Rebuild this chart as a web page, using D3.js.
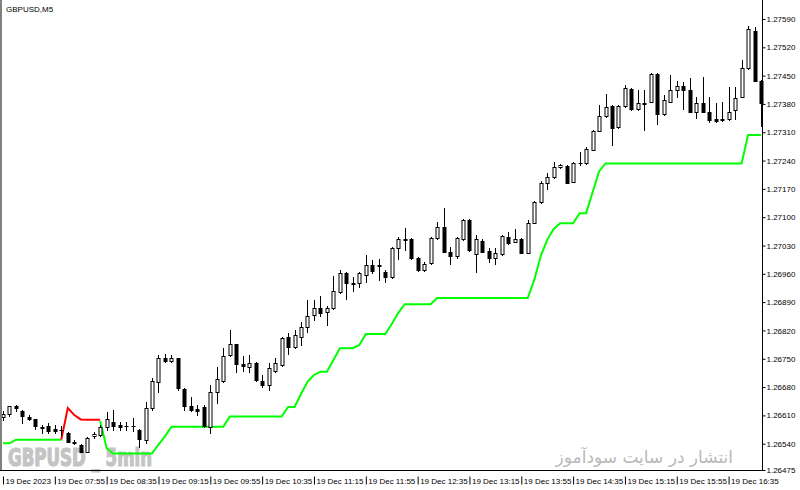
<!DOCTYPE html>
<html>
<head>
<meta charset="utf-8">
<script src="https://cdn.jsdelivr.net/npm/d3@7"></script>
<style>
  body { margin: 0; background: #fff; }
  svg { display: block; }
</style>
</head>
<body>
<div id="container"></div>
<script>
// GBPUSD M5, 19 Dec 2023, bars 07:15 .. 17:00
const openP = [1.26606,1.26613,1.26633,1.26622,1.26605,1.26601,1.26581,1.26584,1.26577,1.26575,
  1.26566,1.26545,1.26537,1.26520,1.26559,1.26562,1.26581,1.26594,1.26586,1.26585,
  1.26584,1.26574,1.26549,1.26628,1.26693,1.26751,1.26745,1.26751,1.26675,1.26633,
  1.26625,1.26631,1.26582,1.26669,1.26696,1.26759,1.26786,1.26737,1.26730,1.26739,
  1.26696,1.26684,1.26720,1.26735,1.26805,1.26778,1.26805,1.26829,1.26858,1.26875,
  1.26865,1.26875,1.26916,1.26961,1.26938,1.26938,1.26957,1.26983,1.26979,1.26965,
  1.26953,1.27023,1.27044,1.27045,1.26998,1.26969,1.26986,1.27048,1.27075,1.27015,
  1.27005,1.27045,1.27093,1.27009,1.27042,1.27016,1.26998,1.27009,1.27052,1.27039,
  1.27045,1.27012,1.27086,1.27137,1.27184,1.27199,1.27225,1.27227,1.27188,1.27233,
  1.27233,1.27266,1.27314,1.27349,1.27375,1.27322,1.27375,1.27416,1.27367,1.27381,
  1.27386,1.27454,1.27355,1.27386,1.27415,1.27424,1.27415,1.27361,1.27383,1.27361,
  1.27343,1.27343,1.27342,1.27365,1.27398,1.27468,1.27561,1.27437];
const highP = [1.26621,1.26634,1.26636,1.26623,1.26610,1.26602,1.26586,1.26592,1.26587,1.26584,
  1.26569,1.26549,1.26539,1.26557,1.26569,1.26586,1.26619,1.26623,1.26594,1.26594,
  1.26604,1.26576,1.26644,1.26702,1.26759,1.26762,1.26759,1.26752,1.26678,1.26655,
  1.26636,1.26636,1.26685,1.26730,1.26777,1.26820,1.26787,1.26757,1.26759,1.26742,
  1.26710,1.26739,1.26751,1.26804,1.26814,1.26821,1.26842,1.26895,1.26895,1.26905,
  1.26880,1.26955,1.26969,1.26965,1.26952,1.26965,1.27006,1.26995,1.26997,1.26969,
  1.27026,1.27052,1.27073,1.27049,1.27002,1.26988,1.27051,1.27089,1.27122,1.27027,
  1.27051,1.27096,1.27096,1.27056,1.27046,1.27023,1.27023,1.27056,1.27064,1.27070,
  1.27049,1.27093,1.27140,1.27189,1.27209,1.27237,1.27232,1.27229,1.27237,1.27262,
  1.27274,1.27316,1.27377,1.27405,1.27377,1.27377,1.27427,1.27419,1.27415,1.27415,
  1.27457,1.27456,1.27402,1.27452,1.27437,1.27435,1.27443,1.27396,1.27446,1.27396,
  1.27382,1.27386,1.27421,1.27421,1.27489,1.27573,1.27569,1.27439];
const lowP = [1.26599,1.26609,1.26622,1.26590,1.26599,1.26576,1.26567,1.26567,1.26566,1.26562,
  1.26543,1.26539,1.26519,1.26519,1.26554,1.26559,1.26574,1.26574,1.26574,1.26574,
  1.26572,1.26533,1.26542,1.26623,1.26669,1.26742,1.26742,1.26673,1.26623,1.26622,
  1.26611,1.26581,1.26566,1.26641,1.26693,1.26756,1.26717,1.26720,1.26718,1.26695,
  1.26680,1.26673,1.26717,1.26732,1.26763,1.26777,1.26784,1.26817,1.26846,1.26856,
  1.26834,1.26873,1.26913,1.26897,1.26918,1.26927,1.26940,1.26962,1.26945,1.26940,
  1.26950,1.26996,1.27019,1.26997,1.26967,1.26967,1.26984,1.27046,1.27014,1.26984,
  1.26999,1.27044,1.27016,1.26965,1.27014,1.26988,1.26984,1.27006,1.27034,1.27038,
  1.27011,1.27011,1.27085,1.27135,1.27170,1.27197,1.27222,1.27184,1.27186,1.27229,
  1.27232,1.27265,1.27313,1.27347,1.27279,1.27320,1.27373,1.27365,1.27365,1.27316,
  1.27385,1.27330,1.27353,1.27385,1.27398,1.27367,1.27360,1.27345,1.27360,1.27336,
  1.27336,1.27338,1.27340,1.27342,1.27397,1.27466,1.27436,1.27326];
const closeP = [1.26613,1.26632,1.26629,1.26608,1.26600,1.26584,1.26579,1.26572,1.26572,1.26573,
  1.26544,1.26541,1.26520,1.26554,1.26564,1.26581,1.26601,1.26583,1.26581,1.26584,
  1.26585,1.26551,1.26628,1.26696,1.26751,1.26745,1.26752,1.26677,1.26632,1.26623,
  1.26622,1.26583,1.26669,1.26700,1.26756,1.26786,1.26738,1.26732,1.26739,1.26698,
  1.26684,1.26726,1.26739,1.26801,1.26778,1.26809,1.26828,1.26856,1.26876,1.26864,
  1.26875,1.26918,1.26961,1.26938,1.26935,1.26961,1.26982,1.26967,1.26982,1.26953,
  1.27023,1.27045,1.27046,1.26998,1.26969,1.26984,1.27048,1.27075,1.27015,1.27005,
  1.27048,1.27093,1.27019,1.27045,1.27015,1.26998,1.27011,1.27054,1.27036,1.27045,
  1.27012,1.27085,1.27137,1.27184,1.27200,1.27223,1.27229,1.27185,1.27233,1.27235,
  1.27268,1.27313,1.27350,1.27373,1.27320,1.27375,1.27419,1.27367,1.27382,1.27383,
  1.27454,1.27355,1.27390,1.27415,1.27424,1.27415,1.27361,1.27382,1.27361,1.27340,
  1.27338,1.27340,1.27361,1.27394,1.27468,1.27565,1.27437,1.27382];

// trend line: green while up, red while down (null = not drawn)
const upTrend = [1.26541,1.26541,1.26550,1.26550,1.26550,1.26550,1.26550,1.26550,1.26550,1.26550,
  null,null,null,null,null,1.26596,1.26529,1.26516,1.26516,1.26516,
  1.26516,1.26516,1.26516,1.26516,1.26538,1.26558,1.26582,1.26582,1.26582,1.26582,
  1.26582,1.26582,1.26582,1.26582,1.26582,1.26607,1.26607,1.26607,1.26607,1.26607,
  1.26607,1.26607,1.26607,1.26607,1.26631,1.26631,1.26663,1.26693,1.26710,1.26718,
  1.26718,1.26747,1.26776,1.26776,1.26776,1.26784,1.26811,1.26811,1.26811,1.26811,
  1.26836,1.26863,1.26885,1.26885,1.26885,1.26885,1.26885,1.26900,1.26900,1.26900,
  1.26900,1.26900,1.26900,1.26900,1.26900,1.26900,1.26900,1.26900,1.26900,1.26900,
  1.26900,1.26900,1.26945,1.27004,1.27044,1.27071,1.27085,1.27085,1.27085,1.27110,
  1.27110,1.27161,1.27213,1.27233,1.27233,1.27233,1.27233,1.27233,1.27233,1.27233,
  1.27233,1.27233,1.27233,1.27233,1.27233,1.27233,1.27233,1.27233,1.27233,1.27233,
  1.27233,1.27233,1.27233,1.27233,1.27233,1.27303,1.27303,1.27303];
const downStart = 9;
const downTrend = [1.26550,1.26628,1.26611,1.26600,1.26599,1.26599,1.26599];

const timeTickBars = [0, 8, 16, 24, 32, 40, 48, 56, 64, 72, 80, 88, 96, 104, 112];
const timeTickLabels = ["19 Dec 2023", "19 Dec 07:55", "19 Dec 08:35", "19 Dec 09:15", "19 Dec 09:55",
  "19 Dec 10:35", "19 Dec 11:15", "19 Dec 11:55", "19 Dec 12:35", "19 Dec 13:15", "19 Dec 13:55",
  "19 Dec 14:35", "19 Dec 15:15", "19 Dec 15:55", "19 Dec 16:35"];
const priceTicks = [1.26475, 1.26540, 1.26610, 1.26680, 1.26750, 1.26820, 1.26890, 1.26960,
  1.27030, 1.27100, 1.27170, 1.27240, 1.27310, 1.27380, 1.27450, 1.27520, 1.27590];

const W = 800, H = 490;
const axisX = 762, axisY = 470;

const svg = d3.select("#container").append("svg")
  .attr("width", W).attr("height", H)
  .style("font-family", "'Liberation Sans', Arial, sans-serif");

const x = d3.scaleLinear().domain([0, openP.length - 1]).range([3, 761]);
const y = d3.scaleLinear().domain([1.26475, 1.27590]).range([axisY, 19]);

// watermarks (behind everything)
svg.append("text")
  .attr("x", 8).attr("y", 466)
  .attr("textLength", 144).attr("lengthAdjust", "spacingAndGlyphs")
  .style("font-family", "'DejaVu Sans Condensed', 'DejaVu Sans', sans-serif")
  .style("font-weight", "bold").style("font-size", "24px")
  .attr("fill", "#c4c4c4").attr("stroke", "#c4c4c4").attr("stroke-width", 1.2)
  .text("GBPUSD _ 5min");

svg.append("text")
  .attr("x", 733).attr("y", 463)
  .attr("text-anchor", "end")
  .style("font-family", "'DejaVu Sans', sans-serif")
  .style("font-size", "17px")
  .attr("fill", "#b9b9b9")
  .text("انتشار در سایت سودآموز");

// trend lines
const trendLine = d3.line()
  .defined(d => d.v != null)
  .x(d => x(d.i))
  .y(d => y(d.v));

svg.append("path")
  .datum(upTrend.map((v, i) => ({ i, v })))
  .attr("d", trendLine)
  .attr("fill", "none").attr("stroke", "#00ff00").attr("stroke-width", 2);

svg.append("path")
  .datum(downTrend.map((v, k) => ({ i: downStart + k, v })))
  .attr("d", trendLine)
  .attr("fill", "none").attr("stroke", "#ff0000").attr("stroke-width", 2);

// candles
const bars = openP.map((o, i) => ({ i, o, h: highP[i], l: lowP[i], c: closeP[i] }));
const candle = svg.append("g").selectAll("g").data(bars).join("g");

candle.append("line")
  .attr("x1", d => Math.round(x(d.i)) + 0.5)
  .attr("x2", d => Math.round(x(d.i)) + 0.5)
  .attr("y1", d => Math.round(y(d.h)))
  .attr("y2", d => Math.round(y(d.l)) + 1)
  .attr("stroke", "#000");

candle.append("rect")
  .attr("x", d => Math.round(x(d.i)) - 1)
  .attr("y", d => Math.round(y(Math.max(d.o, d.c))) + 0.5)
  .attr("width", 3)
  .attr("height", d => Math.max(0.01, Math.round(y(Math.min(d.o, d.c))) - Math.round(y(Math.max(d.o, d.c)))))
  .attr("fill", d => d.c >= d.o ? "#fff" : "#000")
  .attr("stroke", "#000");

// frame
svg.append("line").attr("x1", 1).attr("x2", 1).attr("y1", 0).attr("y2", axisY)
  .attr("stroke", "#808080").attr("stroke-width", 2);

// price axis
const yAxis = d3.axisRight(y)
  .tickValues(priceTicks)
  .tickSize(3).tickPadding(1)
  .tickFormat(d3.format(".5f"));
const gy = svg.append("g").attr("transform", `translate(${axisX + 0.5},0)`).call(yAxis);
gy.select(".domain").remove();
gy.selectAll("text").style("font-size", "8px").style("font-family", "'Liberation Sans', Arial, sans-serif");

// time axis
const xAxis = d3.axisBottom(x)
  .tickValues(timeTickBars)
  .tickSize(14)
  .tickFormat((d, i) => timeTickLabels[i]);
const gx = svg.append("g").attr("transform", `translate(0,${axisY + 0.5})`).call(xAxis);
gx.select(".domain").remove();
gx.selectAll(".tick line").attr("y1", 6);
gx.selectAll("text")
  .attr("text-anchor", "start").attr("x", 2).attr("y", 13).attr("dy", null)
  .style("font-size", "8px").style("font-family", "'Liberation Sans', Arial, sans-serif");

svg.append("line").attr("x1", axisX + 0.5).attr("x2", axisX + 0.5).attr("y1", 0).attr("y2", axisY + 1)
  .attr("stroke", "#000");
svg.append("line").attr("x1", 0).attr("x2", axisX + 1).attr("y1", axisY + 0.5).attr("y2", axisY + 0.5)
  .attr("stroke", "#000");

svg.append("text")
  .attr("x", 6).attr("y", 12)
  .style("font-size", "8px")
  .attr("fill", "#000")
  .text("GBPUSD,M5");
</script>
</body>
</html>
